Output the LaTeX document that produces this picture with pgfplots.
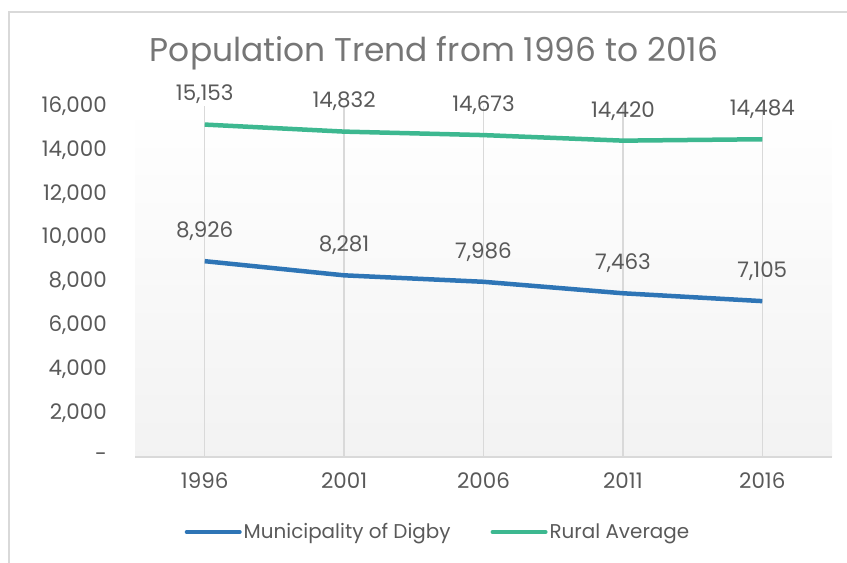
\documentclass[border=0pt]{standalone}
\usepackage{pgfplots}
\pgfplotsset{compat=1.18}
\usepackage{fontspec}
\setmainfont{Poppins}
\definecolor{digby}{HTML}{2E75B6}
\definecolor{rural}{HTML}{3DB890}
\definecolor{gridc}{HTML}{D9D9D9}
\definecolor{txt}{HTML}{595959}
\definecolor{ttl}{HTML}{767676}
\begin{document}
\begin{tikzpicture}[x=1bp,y=1bp]
\path[use as bounding box] (0,0) rectangle (847,563);
\draw[gridc, line width=2bp] (9,0) -- (9,551) -- (847,551);
\node[ttl, font=\fontsize{33}{40}\selectfont, anchor=base] at (434,501) {Population Trend from 1996 to 2016};
\begin{axis}[
  at={(135bp,106bp)}, anchor=south west,
  scale only axis, width=697bp, height=351bp,
  xmin=-0.5, xmax=4.5, ymin=0, ymax=16000,
  clip=false,
  scaled y ticks=false,
  xtick={0,1,2,3,4},
  xticklabels={1996,2001,2006,2011,2016},
  ytick={0,2000,4000,6000,8000,10000,12000,14000,16000},
  yticklabels={{-\hspace{16bp}},{2,000},{4,000},{6,000},{8,000},{10,000},{12,000},{14,000},{16,000}},
  axis x line*=bottom, axis y line*=left,
  x axis line style={draw=gridc, line width=2bp, -},
  y axis line style={draw=none},
  major tick length=0pt,
  tick style={draw=none},
  xmajorgrids, grid style={draw=gridc, line width=1.3bp},
  axis background/.style={top color=white, bottom color=black!5},
  tick label style={font=\fontsize{21.5}{26}\selectfont, text=txt},
  xticklabel style={anchor=base, yshift=-32bp},
  yticklabel style={anchor=east, inner sep=0pt, xshift=-28bp},
  /pgf/number format/.cd, 1000 sep={,}, assume math mode=true,
  /pgfplots/.cd,
  nodes near coords,
  nodes near coords style={font=\fontsize{21.5}{26}\selectfont, text=txt, anchor=center, yshift=30bp},
  legend style={at={(0.4347,-0.2137)}, anchor=center, draw=none, fill=none,
    legend columns=2, font=\fontsize{20}{24}\selectfont, text=txt,
    /tikz/every even column/.append style={column sep=38bp},
    nodes={inner sep=2bp}},
  legend image code/.code={\draw[#1, line width=4bp, line cap=round] (0bp,0bp) -- (53bp,0bp);},
]
\addplot[digby, line width=4.5bp, line join=round, mark=none] coordinates {(0,8926) (1,8281) (2,7986) (3,7463) (4,7105)};
\addlegendentry{Municipality of Digby}
\addplot[rural, line width=4.5bp, line join=round, mark=none] coordinates {(0,15153) (1,14832) (2,14673) (3,14420) (4,14484)};
\addlegendentry{Rural Average}
\end{axis}
\end{tikzpicture}
\end{document}
